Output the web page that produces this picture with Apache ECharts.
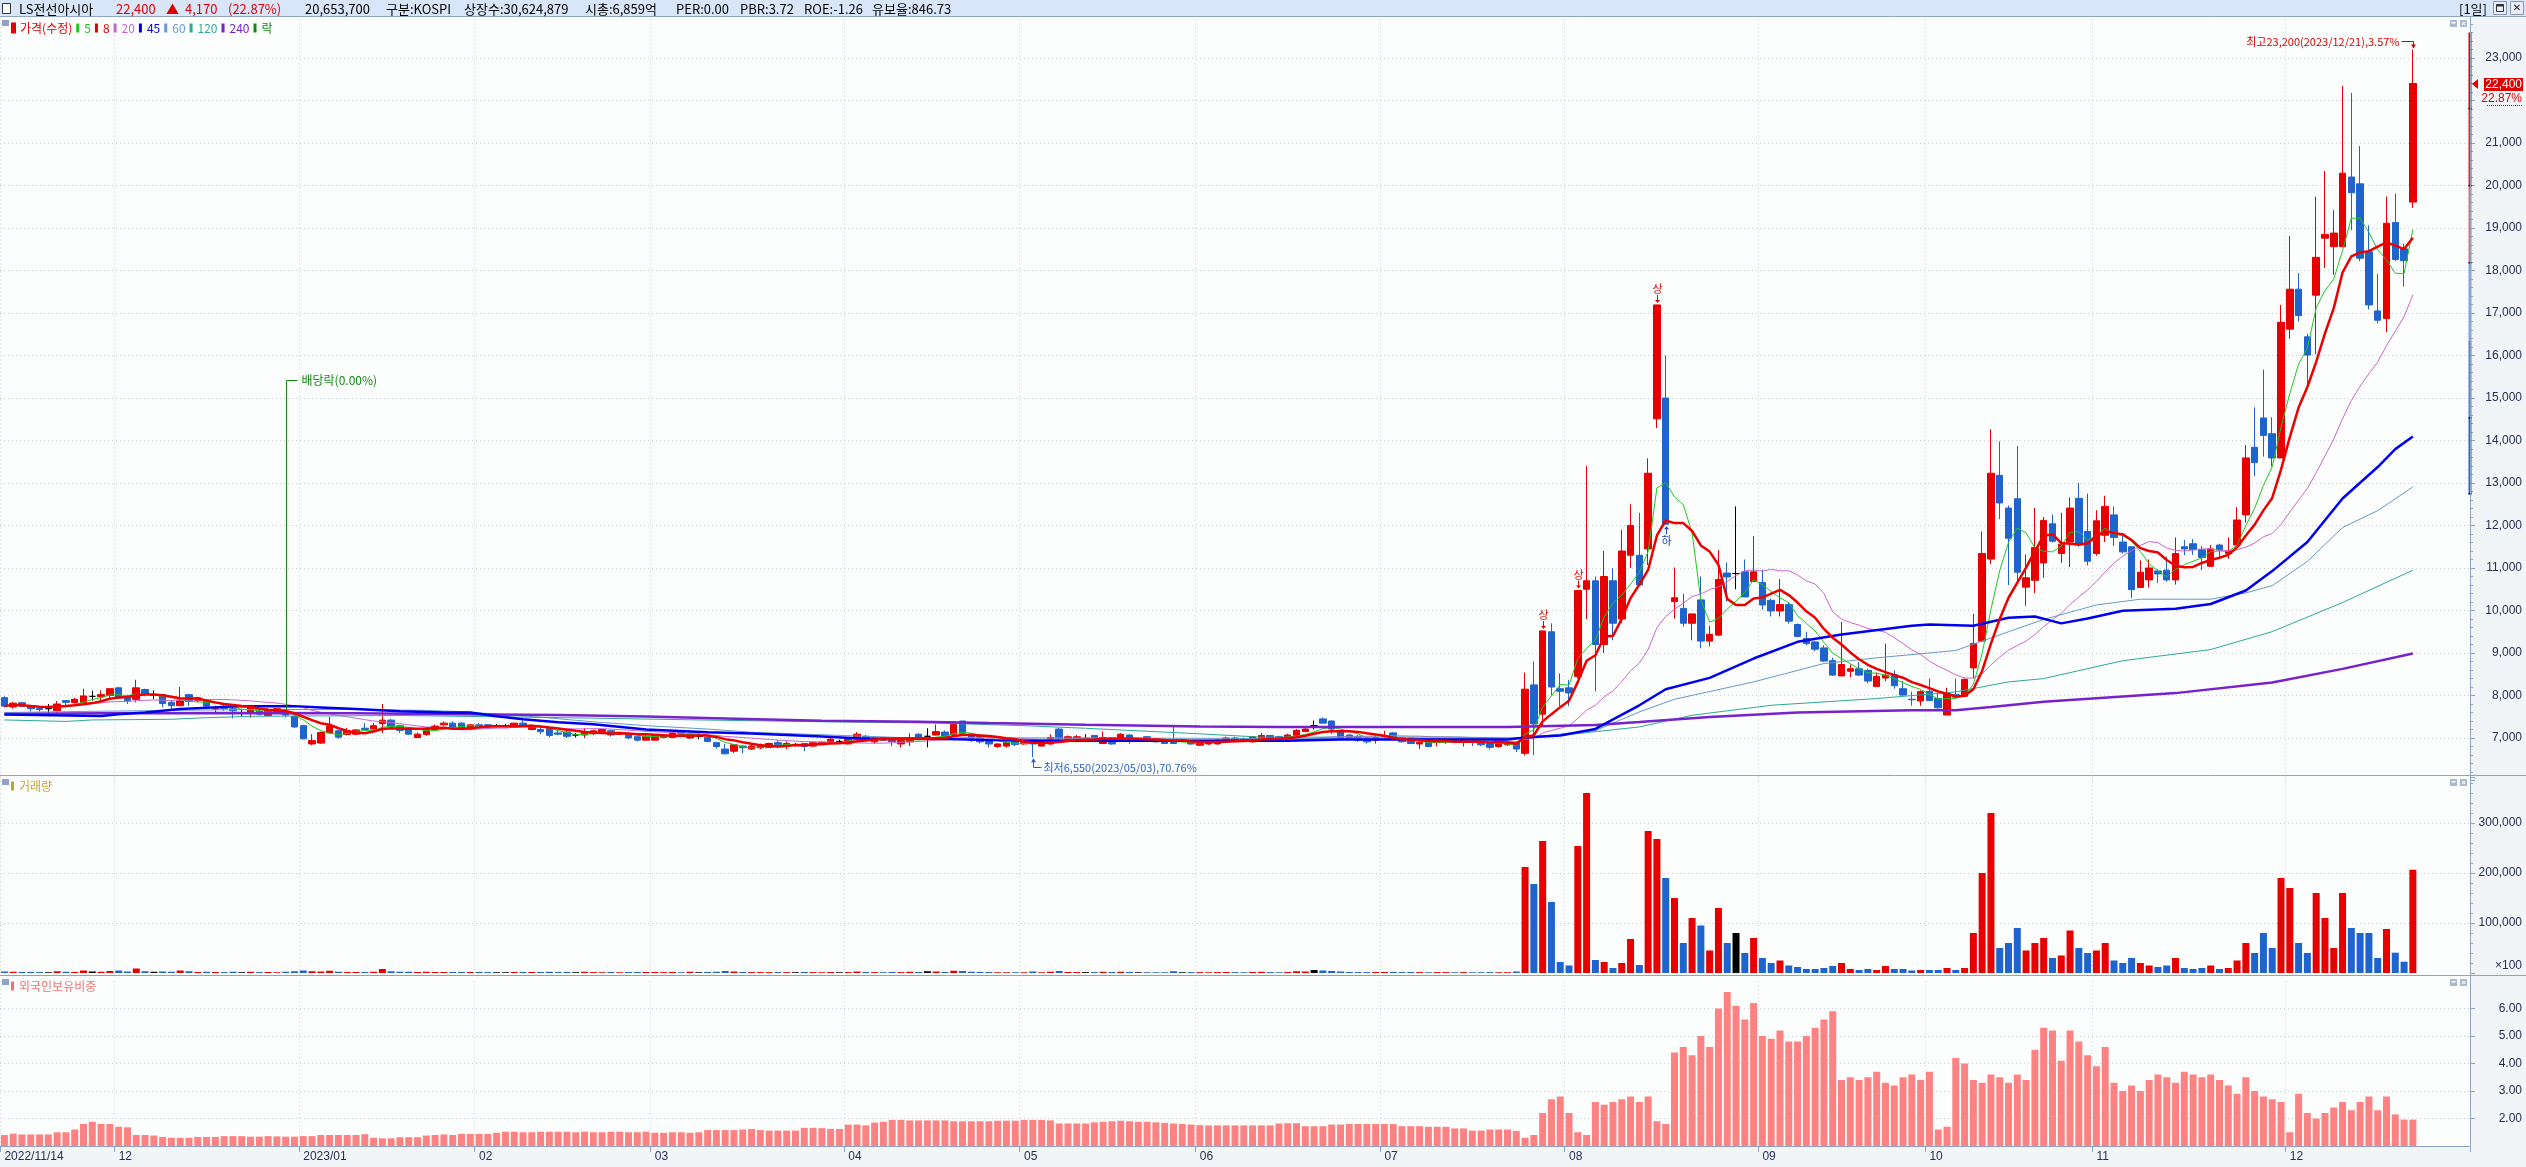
<!DOCTYPE html>
<html>
<head>
<meta charset="utf-8">
<title>LS전선아시아</title>
<script src="https://cdn.jsdelivr.net/npm/echarts@6.0.0/dist/echarts.min.js"></script>
<style>
  html, body { margin: 0; padding: 0; background: #f2f5f7; }
  #main { width: 2526px; height: 1167px; }
</style>
</head>
<body>
<div id="main"></div>
<script>
// 거래일 (월별)
const tradeDays = [
  ['2022/11', [14,15,16,17,18,21,22,23,24,25,28,29,30]],
  ['2022/12', [1,2,5,6,7,8,9,12,13,14,15,16,19,20,21,22,23,26,27,28,29]],
  ['2023/01', [2,3,4,5,6,9,10,11,12,13,16,17,18,19,20,25,26,27,30,31]],
  ['2023/02', [1,2,3,6,7,8,9,10,13,14,15,16,17,20,21,22,23,24,27,28]],
  ['2023/03', [2,3,6,7,8,9,10,13,14,15,16,17,20,21,22,23,24,27,28,29,30,31]],
  ['2023/04', [3,4,5,6,7,10,11,12,13,14,17,18,19,20,21,24,25,26,27,28]],
  ['2023/05', [2,3,4,8,9,10,11,12,15,16,17,18,19,22,23,24,25,26,30,31]],
  ['2023/06', [1,2,5,7,8,9,12,13,14,15,16,19,20,21,22,23,26,27,28,29,30]],
  ['2023/07', [3,4,5,6,7,10,11,12,13,14,17,18,19,20,21,24,25,26,27,28,31]],
  ['2023/08', [1,2,3,4,7,8,9,10,11,14,16,17,18,21,22,23,24,25,28,29,30,31]],
  ['2023/09', [1,4,5,6,7,8,11,12,13,14,15,18,19,20,21,22,25,26,27]],
  ['2023/10', [4,5,6,10,11,12,13,16,17,18,19,20,23,24,25,26,27,30,31]],
  ['2023/11', [1,2,3,6,7,8,9,10,13,14,15,16,17,20,21,22,23,24,27,28,29,30]],
  ['2023/12', [1,4,5,6,7,8,11,12,13,14,15,18,19,20,21]]
];

const openPrice = [
  7950,7730,7830,7740,7700,7690,7640,7880,7830,7830, 7980,7970,8000,8180,7980,7910,8140,8010,8020,7840,
  7760,8020,7890,7880,7680,7750,7690,7580,7600,7630, 7530,7580,7610,7510,7290,6860,6880,7120,7170,7080,
  7090,7230,7210,7340,7420,7290,7210,7010,7080,7200, 7310,7350,7350,7200,7310,7310,7290,7280,7250,7350,
  7200,7200,7230,7120,7140,7070,7070,7100,7150,7170, 7090,7090,7030,6950,6950,7010,7010,7140,7000,7040,
  7010,6890,6740,6690,6810,6740,6770,6780,6890,6810, 6840,6870,6810,6840,6910,6920,6860,6980,7040,6910,
  7000,6970,6860,6910,7090,7040,7070,7140,7090,7400, 7090,7040,6970,6800,6810,6940,6860,6950,6810,6860,
  7210,6920,6940,6980,7060,6870,7000,6920,7070,6970, 7030,6980,6940,6940,6940,6940,6830,6860,6860,6920,
  7000,6980,6910,7000,7060,7030,6980,7060,7150,7290, 7450,7400,7150,7070,7040,7000,6950,7030,7120,7010,
  7000,6860,6900,6900,6920,6970,6910,6970,6920,6870, 6800,6840,6900,6640,8250,7560,9500,8160,8180,8450,
  10500,10700,9200,10700,9800,11300,11300,11450,14510,15000, 10210,10050,9700,10250,9280,9420,10880,10870,10910,10680,
  10660,10240,9990,10140,9670,9340,9260,9120,8820,8460, 8570,8630,8590,8210,8410,8490,8160,7910,7870,8100,
  7930,7540,8020,7980,8650,9280,11210,13180,12410,12630, 10550,10710,11120,12040,11340,11610,12640,11860,11340,11770,
  12250,11610,11500,10540,10720,10930,10950,10720,11500,11570, 11430,11040,11540,11340,11540,12250,13840,14530,14160,13590,
  16620,17560,16440,17420,18760,18560,18560,20200,20040,18440, 17050,16870,19130,18510,19610
];
const highPrice = [
  7980,7850,7850,7780,7740,7800,7870,7880,7940,8160, 8110,8120,8160,8200,8020,8370,8160,8120,8020,7900,
  8200,8040,7950,7920,7760,7780,7780,7690,7750,7670, 7700,7700,7650,7530,7310,7090,7150,7500,7190,7240,
  7210,7350,7350,7800,7450,7310,7230,7130,7250,7320, 7390,7390,7370,7320,7350,7320,7330,7330,7360,7410,
  7310,7250,7250,7190,7180,7120,7230,7200,7210,7180, 7140,7120,7040,7070,7090,7090,7140,7160,7180,7110,
  7030,6900,6860,6860,6830,6840,6870,6890,6950,6920, 6880,6870,6900,6920,7000,6960,6990,7140,7070,7010,
  7020,6980,6950,7110,7110,7230,7320,7180,7400,7400, 7110,7060,6980,6870,6920,6950,6920,6950,6920,7090,
  7230,7060,7070,7090,7070,7150,7010,7110,7090,7000, 7040,7000,6950,7280,6960,6960,6940,6940,6980,7030,
  7030,7010,7040,7120,7070,7040,7100,7210,7240,7410, 7480,7410,7180,7090,7070,7010,7060,7170,7140,7030,
  7010,6920,6920,6970,7000,6990,7000,6980,6940,6890, 6890,6930,6920,8540,8800,9520,9700,8520,8370,10470,
  13400,10800,11400,11000,11900,12500,12300,13580,17190,16000, 11010,10400,9920,10800,9640,11420,11130,12450,11200,11750,
  10960,10280,10740,10200,9690,9500,9280,9180,8890,9730, 8730,8790,8630,8540,9220,8590,8340,8090,8120,8400,
  8040,8180,8400,8400,9920,11860,14260,13980,12470,13870, 11320,12410,12200,12260,12300,12660,13000,12750,12360,12700,
  12450,11820,11500,11180,11200,10970,11270,11720,11660,11680, 11520,11540,11570,11720,12430,13890,14780,15670,14550,17190,
  18810,17940,16510,19740,20340,19420,22340,22180,20930,19060, 17920,19740,19810,18630,23200
];
const lowPrice = [
  7720,7690,7720,7620,7620,7590,7590,7720,7810,7810, 7880,7870,7920,7920,7800,7840,7980,7920,7720,7690,
  7750,7750,7840,7720,7610,7640,7460,7510,7480,7530, 7510,7570,7480,7240,6970,6830,6860,7100,6980,7060,
  7060,7180,7200,7120,7240,7120,7070,7000,7050,7180, 7290,7210,7210,7180,7210,7230,7250,7250,7240,7270,
  7180,7090,7010,7060,7000,7010,7000,7070,7120,7030, 7070,6970,6920,6940,6940,6990,7000,7090,6980,6970,
  6900,6750,6610,6640,6640,6720,6740,6770,6770,6740, 6800,6690,6780,6830,6890,6890,6850,6970,6950,6860,
  6930,6810,6780,6810,6940,6780,7060,7010,7070,7090, 6910,6870,6780,6770,6770,6810,6840,6550,6800,6840,
  6950,6900,6900,6900,6900,6860,6840,6910,6860,6940, 6940,6890,6860,6860,6900,6840,6810,6840,6840,6900,
  6910,6910,6890,6970,6970,6960,6970,7040,7140,7200, 7340,7090,6950,6950,6910,6870,6870,7010,6970,6890,
  6860,6740,6790,6800,6860,6880,6800,6810,6810,6730, 6770,6810,6670,6590,6600,7300,8000,7750,7750,8400,
  9800,8100,9000,9300,9700,11000,10600,11070,14290,12030, 9810,9620,9300,9110,9150,9400,10210,10500,10320,10680,
  10020,9860,9860,9690,9370,9180,9040,8790,8460,8460, 8430,8460,8290,8200,8340,8160,7990,7760,7760,7870,
  7690,7540,7930,7980,8410,9260,11090,12150,10600,10680, 10110,10410,10770,11600,11120,11020,11500,11060,11290,11610,
  11520,11340,10290,10540,10540,10650,10680,10610,11300,11310, 10950,11020,11220,11220,11520,12070,13160,13620,13390,13590,
  16390,16800,15210,16030,18060,17900,18560,18950,18220,17080, 16760,16550,18220,17620,19470
];
const closePrice = [
  7750,7820,7750,7690,7670,7690,7800,7840,7910,7990, 7980,8020,8160,7940,7880,8180,8030,8010,7810,7760,
  7880,7860,7940,7750,7690,7690,7640,7580,7720,7560, 7670,7690,7540,7260,6980,6940,7130,7280,7020,7170,
  7190,7200,7290,7420,7270,7180,7090,7090,7230,7280, 7350,7260,7240,7310,7240,7260,7290,7280,7350,7290,
  7290,7150,7060,7090,7040,7070,7150,7170,7200,7070, 7120,7000,6950,7040,7060,7070,7120,7110,7090,7040,
  6920,6800,6630,6840,6770,6810,6840,6870,6840,6870, 6840,6800,6890,6900,6970,6920,6970,7090,6980,7000,
  6950,6910,6940,7000,6970,7040,7150,7040,7320,7110, 6950,6910,6860,6860,6900,6850,6900,6860,6900,7010,
  6980,7030,7030,6980,6940,7010,6860,7090,6980,6970, 6950,6910,6870,6870,6940,6860,6900,6920,6950,7000,
  6940,6920,7030,7060,6980,6970,7070,7180,7210,7290, 7350,7210,6980,6980,6950,6910,7010,7040,6980,6910,
  6870,6900,6800,6950,6980,6910,6980,6910,6840,6780, 6870,6900,6740,8150,7330,9520,8200,8100,8060,10470,
  10700,9200,10800,9700,11400,12000,10600,13230,17190,12030, 10300,9700,9920,9280,9440,10730,10790,10870,10320,10910,
  10130,9990,10140,9750,9390,9220,9090,8810,8480,8730, 8630,8480,8340,8450,8480,8230,8010,7900,8090,7880,
  7710,8040,7960,8380,9220,11340,13230,12530,11700,10900, 10770,11480,12120,11630,11560,12410,11540,11160,12110,12450,
  11720,11380,10490,10900,11000,10860,10720,11340,11450,11430, 11250,11450,11430,11400,12130,13590,13480,14120,13590,16780,
  17560,16940,16010,18310,18850,18880,20290,19830,18290,17190, 16830,19110,18260,18230,22400
];

// 거래량 (x100주)
const volume = [
  3000,2500,2000,2200,1800,1500,3500,2500,2200,5000, 3000,2500,4000,5000,3000,9000,3500,2500,3000,2500,
  5000,3500,2000,2500,2000,1800,2500,1500,2500,1800, 2000,1500,2500,3500,5000,3500,3000,4500,2500,2000,
  2000,2000,2500,8000,3500,2500,2500,2000,2500,2000, 2000,2000,2000,2000,2000,1800,1500,1500,2000,2000,
  2000,2000,2500,1800,2000,1500,2500,1800,1500,2000, 1500,2000,2000,2000,2000,1800,2000,1500,2500,1500,
  2000,2500,4000,3000,2000,1800,1800,1800,1800,1800, 1500,2000,1800,1500,2000,1500,1800,3000,2000,1800,
  1500,2000,1800,2500,2000,3500,3000,2000,4500,4000, 2500,2000,2000,1500,1500,1500,1500,3000,1500,2500,
  4000,2000,2000,1800,1800,2500,2000,2500,2000,1500, 1500,1500,1500,3500,1500,1800,1800,1500,1800,2000,
  1800,1500,2000,2500,1800,1500,2000,3500,3000,6000, 5000,4000,3000,2000,1800,1800,2000,2000,2000,1800,
  2000,1800,1500,1800,1800,1500,1800,1500,1500,1800, 1500,1500,3000,212000,178000,264000,142000,22000,15000,254000,
  360000,26000,22000,10000,20000,68000,16000,284000,268000,190000, 150000,60000,110000,95000,45000,130000,60000,80000,40000,70000,
  30000,20000,25000,15000,12000,8000,8000,10000,14000,20000, 8000,6000,8000,6000,14000,8000,8000,5000,6000,6000,
  6000,10000,6000,10000,80000,200000,320000,50000,60000,90000, 45000,60000,70000,30000,35000,85000,50000,40000,45000,60000,
  25000,20000,30000,20000,15000,12000,15000,30000,10000,8000, 10000,15000,8000,10000,25000,60000,40000,80000,50000,190000,
  170000,60000,40000,160000,110000,50000,160000,90000,80000,80000, 30000,88000,40600,22600,206537
];

// 외국인 보유비중 (%)
const foreignRatio = [
  1.40,1.45,1.42,1.42,1.42,1.42,1.50,1.50,1.60,1.80, 1.88,1.80,1.80,1.70,1.68,1.40,1.40,1.38,1.33,1.30,
  1.30,1.30,1.33,1.33,1.33,1.36,1.36,1.36,1.34,1.34, 1.36,1.35,1.34,1.34,1.36,1.36,1.40,1.40,1.40,1.40,
  1.40,1.43,1.30,1.28,1.28,1.32,1.32,1.32,1.38,1.40, 1.42,1.40,1.44,1.44,1.44,1.44,1.48,1.52,1.52,1.50,
  1.50,1.52,1.52,1.52,1.52,1.50,1.52,1.50,1.50,1.52, 1.52,1.50,1.50,1.52,1.48,1.48,1.50,1.50,1.48,1.50,
  1.58,1.58,1.58,1.58,1.60,1.62,1.58,1.56,1.56,1.56, 1.56,1.66,1.66,1.65,1.62,1.62,1.78,1.78,1.75,1.85,
  1.88,1.95,1.95,1.93,1.93,1.93,1.93,1.93,1.90,1.90, 1.90,1.90,1.90,1.92,1.92,1.92,1.95,1.95,1.95,1.93,
  1.82,1.82,1.82,1.82,1.86,1.88,1.90,1.92,1.90,1.88, 1.88,1.86,1.84,1.82,1.80,1.78,1.76,1.75,1.75,1.75,
  1.75,1.75,1.75,1.75,1.75,1.82,1.83,1.83,1.72,1.72, 1.72,1.78,1.78,1.80,1.80,1.80,1.80,1.80,1.80,1.72,
  1.72,1.72,1.70,1.70,1.70,1.64,1.64,1.56,1.56,1.60, 1.60,1.60,1.55,1.30,1.40,2.20,2.70,2.80,2.20,1.50,
  1.40,2.60,2.50,2.60,2.70,2.80,2.60,2.80,1.90,1.80, 4.40,4.60,4.30,5.00,4.60,6.00,6.60,6.10,5.60,6.20,
  5.00,4.90,5.20,4.80,4.80,5.00,5.30,5.60,5.90,3.40, 3.50,3.40,3.50,3.70,3.30,3.20,3.50,3.60,3.40,3.70,
  1.60,1.70,4.20,4.00,3.40,3.30,3.60,3.50,3.30,3.60, 3.40,4.50,5.30,5.20,4.10,5.20,4.80,4.30,3.90,4.60,
  3.30,3.00,3.20,3.00,3.40,3.60,3.50,3.30,3.70,3.60, 3.50,3.60,3.40,3.20,2.90,3.50,3.00,2.80,2.70,2.60,
  1.50,2.90,2.20,2.00,2.20,2.40,2.60,2.30,2.60,2.80, 2.30,2.80,2.15,1.96,1.96
];

// 장기 이동평균 (차트에서 읽은 값: [일자 index, 가격])
const ma45Pts = [[0,7550],[11,7520],[13,7560],[16,7600],[20,7680],[27,7750],[33,7750],[36,7720],[40,7680],[45,7630],
  [50,7600],[53,7600],[56,7510],[59,7440],[63,7370],[67,7322],[73,7200],[80,7136],[85,7106],[93,7036],[98,6982],
  [106,6982],[112,6950],[118,6936],[146,6936],[152,6967],[171,6967],[173,7010],[177,7060],[181,7214],[186,7770],
  [189,8147],[194,8414],[199,8870],[204,9263],[209,9436],[217,9640],[219,9671],[224,9640],[228,9828],[231,9860],
  [234,9697],[237,9810],[241,9993],[247,10039],[251,10152],[255,10471],[258,10927],[262,11610],[266,12635],
  [270,13376],[272,13797],[274,14093]];
const ma60Pts = [[0,7600],[11,7630],[28,7670],[40,7670],[48,7650],[52,7620],[61,7490],[67,7380],[73,7290],[80,7210],
  [85,7136],[98,7040],[102,7010],[123,6998],[171,6982],[173,7010],[181,7175],[186,7613],[190,7912],[199,8320],
  [207,8752],[213,8886],[222,9059],[228,9500],[232,9790],[238,10130],[243,10266],[251,10266],[255,10414],
  [258,10585],[262,11155],[266,11952],[270,12350],[274,12908]];
const ma120Pts = [[0,7425],[7,7390],[10,7425],[19,7440],[22,7470],[28,7510],[45,7530],[63,7480],[80,7422],[93,7383],
  [106,7352],[116,7290],[123,7229],[136,7098],[143,7020],[165,7020],[173,7000],[177,7060],[186,7260],[192,7535],
  [201,7770],[213,7928],[222,8085],[228,8320],[232,8398],[241,8819],[251,9081],[258,9503],[266,10187],[274,10949]];
const ma240Pts = [[0,7567],[11,7580],[28,7590],[40,7580],[52,7560],[63,7543],[73,7507],[82,7460],[93,7406],[104,7383],
  [112,7352],[123,7310],[136,7268],[145,7260],[171,7260],[181,7306],[186,7378],[194,7495],[204,7598],[217,7653],
  [222,7653],[226,7731],[232,7851],[247,8056],[258,8307],[266,8626],[274,8990]];

// 배당락, 상/하한가 표시일
const exDivIndex = 32;
const upperLimitDays = [175, 179, 188];
const lowerLimitDays = [189];
// 우측 가격대 막대 (경계 가격)
const bandLevels = [12730, 14540, 16350, 18170, 19980, 21790, 23600];
const bandColors = ['#2466ce', '#4a86d8', '#78a6e4', '#f06868', '#e82222', '#e00000'];

const UP = '#e60000', DOWN = '#1f64cc', BORDER = '#8fa3c2', AXIS_TXT = '#262e55';
const GRID_LINE = { color: '#c9cfd8', type: [1, 3], width: 1 };
const NUM_FONT = 'Liberation Sans';
const KR_FONT = '"Noto Sans CJK KR"';

const fmt = v => String(v).replace(/\B(?=(\d{3})+(?!\d))/g, ',');

const dates = [];
tradeDays.forEach(([ym, days]) => days.forEach(d => dates.push(ym + '/' + String(d).padStart(2, '0'))));
const categories = dates.concat(['p1', 'p2', 'p3', 'p4', 'p5', 'p6']);

const monthStarts = new Set();
dates.forEach((d, i) => { if (i === 0 || d.slice(0, 7) !== dates[i - 1].slice(0, 7)) monthStarts.add(i); });
const isMonthStart = idx => monthStarts.has(idx);
const monthLabel = (val, idx) => {
  if (idx === 0) return val;
  const [y, m] = val.split('/');
  return m === '01' ? y + '/' + m : m;
};

function movingAvg(src, n) {
  return src.map((_, i) => {
    const from = Math.max(0, i - n + 1);
    let s = 0;
    for (let k = from; k <= i; k++) s += src[k];
    return Math.round(s / (i - from + 1));
  });
}

const candleData = dates.map((_, i) => {
  const o = openPrice[i], c = closePrice[i];
  const item = { value: [o, c, lowPrice[i], highPrice[i]] };
  if (o === c) item.itemStyle = { color: '#000', color0: '#000', borderColor: '#000', borderColor0: '#000' };
  return item;
});
const volData = volume.map((v, i) => ({
  value: v,
  itemStyle: { color: closePrice[i] > openPrice[i] ? UP : closePrice[i] < openPrice[i] ? DOWN : '#000' }
}));

const last = dates.length - 1;
const lastClose = closePrice[last], prevClose = closePrice[last - 1];
const chg = lastClose - prevClose;
const chgPct = (chg / prevClose * 100).toFixed(2);
let hiIdx = 0, loIdx = 0;
highPrice.forEach((v, i) => { if (v > highPrice[hiIdx]) hiIdx = i; });
lowPrice.forEach((v, i) => { if (v < lowPrice[loIdx]) loIdx = i; });
const hiText = '최고' + fmt(highPrice[hiIdx]) + '(' + dates[hiIdx] + '),' + ((highPrice[hiIdx] - lastClose) / lastClose * 100).toFixed(2) + '%';
const loText = '최저' + fmt(lowPrice[loIdx]) + '(' + dates[loIdx] + '),' + ((lastClose - lowPrice[loIdx]) / lastClose * 100).toFixed(2) + '%';

const chart = echarts.init(document.getElementById('main'));

function renderExDiv(params, api) {
  const i = api.value(0);
  const p = api.coord([i, api.value(1)]);
  const yTop = Math.round(api.coord([i, api.value(2)])[1]) + 0.5;
  const x = Math.round(p[0]) + 0.5;
  const c = '#138a13';
  return { type: 'group', children: [
    { type: 'line', shape: { x1: x, y1: p[1] - 1, x2: x, y2: yTop }, style: { stroke: c, lineWidth: 1 } },
    { type: 'line', shape: { x1: x, y1: yTop, x2: x + 11, y2: yTop }, style: { stroke: c, lineWidth: 1 } },
    { type: 'text', style: { x: x + 15, y: yTop, text: '배당락(0.00%)', fill: c, font: '12px ' + KR_FONT, verticalAlign: 'middle' } }
  ] };
}

function renderLimit(params, api) {
  const i = api.value(0), dir = api.value(2);
  const p = api.coord([i, api.value(1)]);
  const x = Math.round(p[0]) + 0.5, y = p[1];
  if (dir > 0) {
    const c = '#e00000';
    return { type: 'group', children: [
      { type: 'text', style: { x: x, y: y - 16, text: '상', fill: c, font: '11px ' + KR_FONT, align: 'center', verticalAlign: 'middle' } },
      { type: 'line', shape: { x1: x, y1: y - 10, x2: x, y2: y - 3 }, style: { stroke: c, lineWidth: 1 } },
      { type: 'polygon', shape: { points: [[x - 2.5, y - 5], [x + 2.5, y - 5], [x, y - 2]] }, style: { fill: c } }
    ] };
  }
  const c = '#1848c0';
  return { type: 'group', children: [
    { type: 'polygon', shape: { points: [[x - 2.5, y + 5], [x + 2.5, y + 5], [x, y + 2]] }, style: { fill: c } },
    { type: 'line', shape: { x1: x, y1: y + 3, x2: x, y2: y + 10 }, style: { stroke: c, lineWidth: 1 } },
    { type: 'text', style: { x: x, y: y + 17, text: '하', fill: c, font: '11px ' + KR_FONT, align: 'center', verticalAlign: 'middle' } }
  ] };
}

function renderHiLo(params, api) {
  const i = api.value(0), dir = api.value(2);
  const p = api.coord([i, api.value(1)]);
  const x = Math.round(p[0]) + 0.5, y = p[1];
  if (dir > 0) {
    const c = '#e00000', ly = Math.round(y - 9) + 0.5;
    return { type: 'group', children: [
      { type: 'text', style: { x: x - 14, y: ly, text: hiText, fill: c, font: '11px ' + KR_FONT, align: 'right', verticalAlign: 'middle' } },
      { type: 'polyline', shape: { points: [[x - 12, ly], [x, ly], [x, y - 2]] }, style: { stroke: c, lineWidth: 1, fill: null } },
      { type: 'polygon', shape: { points: [[x - 2.5, y - 5], [x + 2.5, y - 5], [x, y - 1]] }, style: { fill: c } }
    ] };
  }
  const c = '#2a5ec8', ly = Math.round(y + 10) + 0.5;
  return { type: 'group', children: [
    { type: 'polygon', shape: { points: [[x - 2.5, y + 5], [x + 2.5, y + 5], [x, y + 1]] }, style: { fill: c } },
    { type: 'polyline', shape: { points: [[x, y + 3], [x, ly], [x + 8, ly]] }, style: { stroke: c, lineWidth: 1, fill: null } },
    { type: 'text', style: { x: x + 10, y: ly, text: loText, fill: c, font: '11px ' + KR_FONT, verticalAlign: 'middle' } }
  ] };
}

function renderBand(params, api) {
  const k = api.value(0);
  const cs = params.coordSys;
  const yLo = api.coord([0, bandLevels[k]])[1];
  const yHi = api.coord([0, bandLevels[k + 1]])[1];
  const x = cs.x + cs.width - 1.5;
  const children = [{ type: 'rect', shape: { x: x, y: yHi, width: 3, height: yLo - yHi }, style: { fill: bandColors[k] } }];
  if (k !== 2) children.push({ type: 'rect', shape: { x: x, y: Math.round(yLo) - 1, width: 3, height: 1.5 }, style: { fill: '#111' } });
  return { type: 'group', children };
}

function renderLast(params, api) {
  const cs = params.coordSys;
  const y = Math.round(api.coord([api.value(0), api.value(1)])[1]);
  const right = cs.x + cs.width;
  return { type: 'group', children: [
    { type: 'polygon', shape: { points: [[right + 2, y], [right + 8, y - 5], [right + 8, y + 5]] }, style: { fill: '#e00000' } },
    { type: 'rect', shape: { x: right + 14, y: y - 6, width: 39, height: 13 }, style: { fill: '#e00000' } },
    { type: 'text', style: { x: right + 52, y: y + 0.5, text: fmt(lastClose), fill: '#fff', font: '12px ' + NUM_FONT, align: 'right', verticalAlign: 'middle' } },
    { type: 'text', style: { x: right + 52, y: y + 14.5, text: chgPct + '%', fill: '#e00000', font: '12px ' + NUM_FONT, align: 'right', verticalAlign: 'middle' } },
    { type: 'line', shape: { x1: right + 17, y1: y + 21.5, x2: right + 52, y2: y + 21.5 }, style: { stroke: '#e00000', lineWidth: 1, lineDash: [1, 1] } }
  ] };
}

function panelIcons(y) {
  return [
    { type: 'rect', z: 100, shape: { x: 2450, y: y, width: 7, height: 7 }, style: { fill: '#a9b8cf' } },
    { type: 'rect', z: 101, shape: { x: 2451.5, y: y + 2, width: 4, height: 1.5 }, style: { fill: '#fff' } },
    { type: 'rect', z: 100, shape: { x: 2460, y: y, width: 7, height: 7 }, style: { fill: '#a9b8cf' } },
    { type: 'text', z: 101, style: { x: 2463.5, y: y + 4, text: '×', fill: '#fff', font: 'bold 8px ' + NUM_FONT, align: 'center', verticalAlign: 'middle' } }
  ];
}

const headerY = 9;
const hText = (x, text, color) => ({ type: 'text', z: 101, style: { x, y: headerY, text, fill: color || '#000', font: '13px ' + KR_FONT, verticalAlign: 'middle' } });

const graphic = [
  { type: 'rect', z: -10, shape: { x: 0, y: 17, width: 2470, height: 1129 }, style: { fill: '#fcfefe' } },
  { type: 'rect', z: 100, shape: { x: 0, y: 0, width: 2526, height: 16 }, style: { fill: '#d9e6f9' } },
  { type: 'line', z: 100, shape: { x1: 0, y1: 16.5, x2: 2526, y2: 16.5 }, style: { stroke: BORDER, lineWidth: 1 } },
  { type: 'rect', z: 101, shape: { x: 2.5, y: 3.5, width: 8, height: 10 }, style: { fill: '#fff', stroke: '#333', lineWidth: 1 } },
  hText(19, 'LS전선아시아'),
  hText(116, fmt(lastClose), '#e00000'),
  hText(166, '▲', '#e00000'),
  hText(185, fmt(chg), '#e00000'),
  hText(228, '(' + chgPct + '%)', '#e00000'),
  hText(305, fmt(volume[last] * 100)),
  hText(386, '구분:KOSPI'),
  hText(464, '상장수:30,624,879'),
  hText(585, '시총:6,859억'),
  hText(676, 'PER:0.00'),
  hText(740, 'PBR:3.72'),
  hText(804, 'ROE:-1.26'),
  hText(872, '유보율:846.73'),
  hText(2459, '[1일]'),
  { type: 'rect', z: 101, shape: { x: 2493.5, y: 1.5, width: 13, height: 13 }, style: { fill: '#e8eef8', stroke: '#8a96aa', lineWidth: 1 } },
  { type: 'rect', z: 102, shape: { x: 2496.5, y: 4.5, width: 7, height: 7 }, style: { fill: 'none', stroke: '#333', lineWidth: 1 } },
  { type: 'rect', z: 102, shape: { x: 2496.5, y: 4.5, width: 7, height: 2 }, style: { fill: '#333' } },
  { type: 'rect', z: 101, shape: { x: 2510.5, y: 1.5, width: 13, height: 13 }, style: { fill: '#e8eef8', stroke: '#8a96aa', lineWidth: 1 } },
  { type: 'text', z: 102, style: { x: 2517, y: 8.5, text: '✕', fill: '#222', font: 'bold 10px "DejaVu Sans"', align: 'center', verticalAlign: 'middle' } },
  // 패널 경계
  { type: 'line', z: 100, shape: { x1: 2470.5, y1: 16, x2: 2470.5, y2: 1147 }, style: { stroke: BORDER, lineWidth: 1 } },
  { type: 'line', z: 100, shape: { x1: 0, y1: 775.5, x2: 2526, y2: 775.5 }, style: { stroke: BORDER, lineWidth: 1 } },
  { type: 'line', z: 100, shape: { x1: 0, y1: 975.5, x2: 2526, y2: 975.5 }, style: { stroke: BORDER, lineWidth: 1 } },
  // 패널 좌상단 표시
  { type: 'rect', z: 100, shape: { x: 2, y: 20, width: 7, height: 6 }, style: { fill: '#8ea3c3' } },
  { type: 'rect', z: 100, shape: { x: 2, y: 779, width: 7, height: 6 }, style: { fill: '#8ea3c3' } },
  { type: 'rect', z: 100, shape: { x: 2, y: 979, width: 7, height: 6 }, style: { fill: '#8ea3c3' } },
  { type: 'text', z: 100, style: { x: 2522, y: 966, text: '×100', fill: AXIS_TXT, font: '12px ' + NUM_FONT, align: 'right', verticalAlign: 'middle' } }
].concat(panelIcons(20), panelIcons(779), panelIcons(979));

const legendItem = (name, color) => ({ name, icon: 'rect', itemStyle: { color }, textStyle: { color } });
const legendBase = { orient: 'horizontal', left: 11, itemWidth: 3, itemHeight: 9, itemGap: 4, selectedMode: false, padding: 0,
  textStyle: { fontFamily: KR_FONT, fontSize: 12, lineHeight: 14 } };

const hideAxisX = gridIndex => ({
  type: 'category', gridIndex, data: categories, boundaryGap: true,
  axisLine: { show: false }, axisTick: { show: false }, axisLabel: { show: false },
  splitLine: { show: true, interval: isMonthStart, lineStyle: GRID_LINE }
});
const rightAxis = (gridIndex, extra) => Object.assign({
  type: 'value', gridIndex, position: 'right',
  axisLine: { show: false },
  axisTick: { show: true, length: 5, lineStyle: { color: BORDER } },
  splitLine: { show: true, showMinLine: false, showMaxLine: false, lineStyle: GRID_LINE }
}, extra);
const axisLabelBase = { margin: 52, align: 'right', color: AXIS_TXT, fontFamily: NUM_FONT, fontSize: 12, showMinLabel: false, showMaxLabel: false };

// 현재가 표시 바로 아래의 눈금 글자는 겹치므로 생략
const priceLabel = v => (v < lastClose && lastClose - v < 700) ? '' : fmt(v);

const lineSeries = (name, data, color, width) => ({
  name, type: 'line', xAxisIndex: 0, yAxisIndex: 0, data, showSymbol: false, symbol: 'none', smooth: false,
  lineStyle: { color, width }, itemStyle: { color }, z: 3, silent: true, animation: false
});

chart.setOption({
  backgroundColor: '#f2f5f7',
  animation: false,
  textStyle: { fontFamily: KR_FONT },
  graphic,
  legend: [
    Object.assign({}, legendBase, { top: 21, data: [
      legendItem('가격(수정)', '#e00000'), legendItem('5', '#1ec81e'), legendItem('8', '#e00000'), legendItem('20', '#cc66cc'),
      legendItem('45', '#0000ee'), legendItem('60', '#6699cc'), legendItem('120', '#2fa898'), legendItem('240', '#7722cc'),
      legendItem('락', '#118811')
    ] }),
    Object.assign({}, legendBase, { top: 779, data: [legendItem('거래량', '#c8a332')] }),
    Object.assign({}, legendBase, { top: 979, data: [legendItem('외국인보유비중', '#f27272')] })
  ],
  grid: [
    { left: 0, right: 56, top: 15.5, height: 765, containLabel: false, outerBoundsMode: 'none' },
    { left: 0, right: 56, top: 777, height: 196, containLabel: false, outerBoundsMode: 'none' },
    { left: 0, right: 56, top: 981.3, bottom: 21, containLabel: false, outerBoundsMode: 'none' }
  ],
  xAxis: [
    hideAxisX(0),
    hideAxisX(1),
    {
      type: 'category', gridIndex: 2, data: categories, boundaryGap: true,
      axisLine: { show: true, lineStyle: { color: BORDER } },
      axisTick: { show: true, interval: isMonthStart, length: 6, lineStyle: { color: BORDER } },
      axisLabel: { show: true, interval: isMonthStart, formatter: monthLabel, color: AXIS_TXT, fontFamily: NUM_FONT, fontSize: 12, align: 'left', margin: 5 },
      splitLine: { show: true, interval: isMonthStart, lineStyle: GRID_LINE }
    }
  ],
  yAxis: [
    rightAxis(0, { min: 6000, max: 24000, interval: 1000,
      minorTick: { show: true, splitNumber: 5, length: 3, lineStyle: { color: BORDER } },
      axisLabel: Object.assign({ formatter: priceLabel }, axisLabelBase) }),
    rightAxis(1, { min: 0, max: 392000, interval: 100000,
      minorTick: { show: true, splitNumber: 5, length: 3, lineStyle: { color: BORDER } },
      axisLabel: Object.assign({ formatter: v => fmt(v) }, axisLabelBase) }),
    rightAxis(2, { min: 1, max: 6.99, interval: 1,
      axisLabel: Object.assign({ formatter: v => v.toFixed(2) }, axisLabelBase) })
  ],
  series: [
    {
      name: '가격(수정)', type: 'candlestick', xAxisIndex: 0, yAxisIndex: 0, data: candleData, barWidth: 7, z: 2,
      itemStyle: { color: UP, color0: DOWN, borderColor: UP, borderColor0: DOWN, borderWidth: 1 }, silent: true
    },
    lineSeries('5', movingAvg(closePrice, 5), '#1ec81e', 1),
    lineSeries('20', movingAvg(closePrice, 20), '#cc66cc', 1),
    lineSeries('60', ma60Pts, '#6699cc', 1),
    lineSeries('120', ma120Pts, '#2fa898', 1),
    lineSeries('240', ma240Pts, '#7722cc', 2.5),
    lineSeries('45', ma45Pts, '#0000ee', 2.5),
    lineSeries('8', movingAvg(closePrice, 8), '#ee0000', 2.5),
    {
      name: '락', type: 'custom', xAxisIndex: 0, yAxisIndex: 0, renderItem: renderExDiv, clip: false, z: 6,
      itemStyle: { color: '#118811' }, data: [[exDivIndex, highPrice[exDivIndex], 15420]], silent: true
    },
    {
      name: 'limitMarks', type: 'custom', xAxisIndex: 0, yAxisIndex: 0, renderItem: renderLimit, clip: false, z: 6, silent: true,
      data: upperLimitDays.map(i => [i, highPrice[i], 1]).concat(lowerLimitDays.map(i => [i, lowPrice[i], -1]))
    },
    {
      name: 'hiLo', type: 'custom', xAxisIndex: 0, yAxisIndex: 0, renderItem: renderHiLo, clip: false, z: 6, silent: true,
      data: [[hiIdx, highPrice[hiIdx], 1], [loIdx, lowPrice[loIdx], -1]]
    },
    {
      name: 'band', type: 'custom', xAxisIndex: 0, yAxisIndex: 0, renderItem: renderBand, clip: false, z: 7, silent: true,
      data: bandColors.map((_, k) => [k])
    },
    {
      name: 'lastPrice', type: 'custom', xAxisIndex: 0, yAxisIndex: 0, renderItem: renderLast, clip: false, z: 7, silent: true,
      data: [[last, lastClose]]
    },
    {
      name: '거래량', type: 'bar', xAxisIndex: 1, yAxisIndex: 1, data: volData, barWidth: 7, itemStyle: { color: '#c8a332' }, silent: true
    },
    {
      name: '외국인보유비중', type: 'bar', xAxisIndex: 2, yAxisIndex: 2, data: foreignRatio, barWidth: 7, itemStyle: { color: '#ff8282' }, silent: true
    }
  ]
});
</script>
</body>
</html>
